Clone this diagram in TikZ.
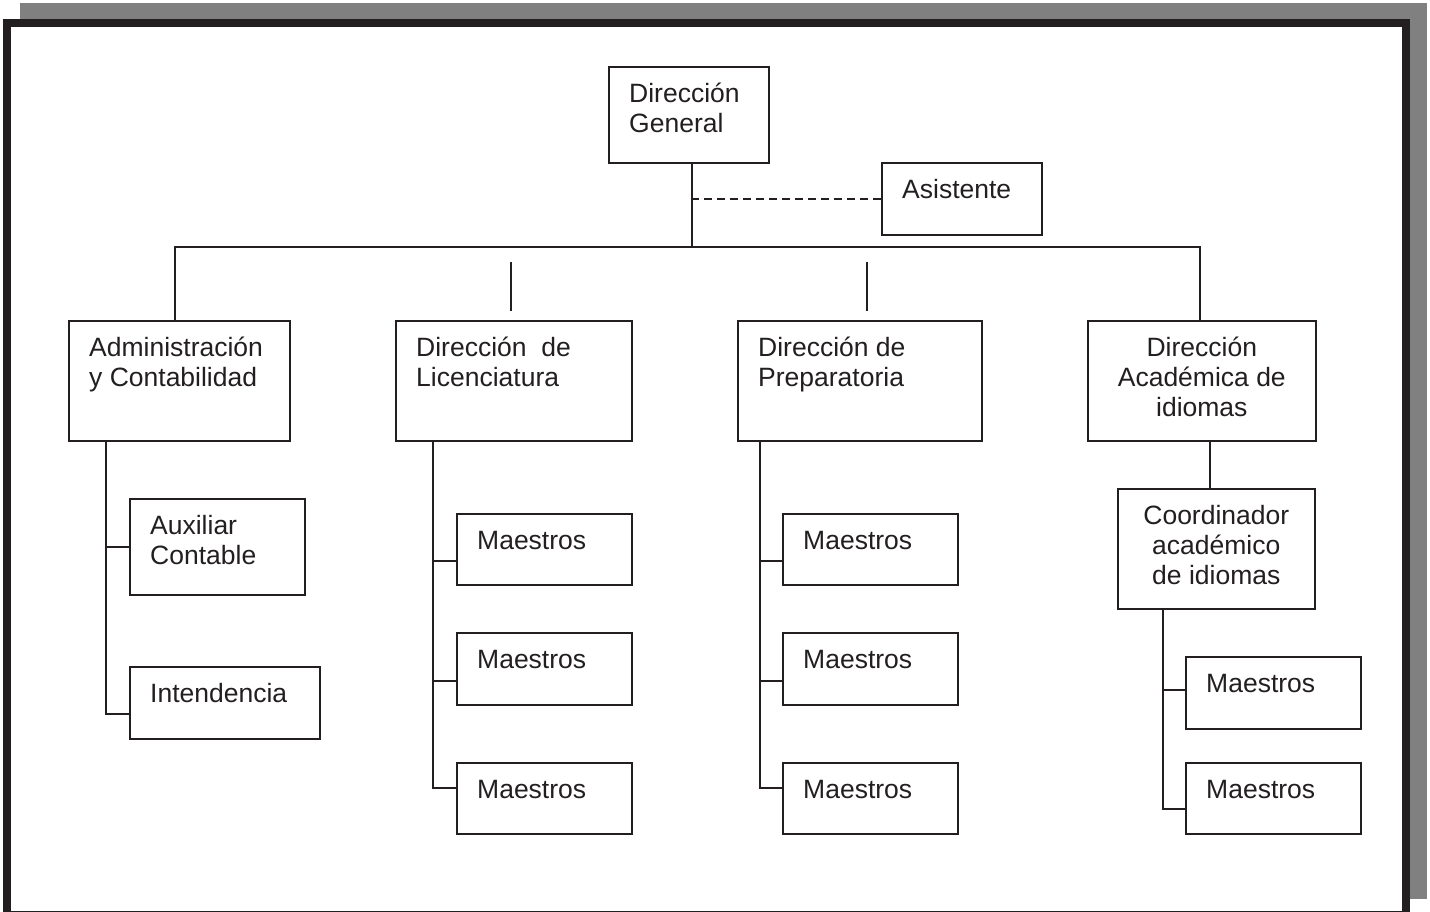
\documentclass[tikz,border=0pt]{standalone}
\usepackage{fontspec}
\setmainfont{Liberation Sans}
\definecolor{ink}{RGB}{35,31,32}
\definecolor{framegray}{RGB}{128,128,128}

% \orgunit{name}{x1}{y1}{x2}{y2}{label}: box with its label set from the top left
\newcommand\orgunit[6]{%
  \node[unit, minimum width={(#4-#2)*1pt}, minimum height={(#5-#3)*1pt}] (#1) at (#2,#3) {};
  \node[caption] (#1-t) at ([xshift=21pt,yshift=-11pt]#1.north west) {\firstline#6};}
% \orgunitc: the same box with its label centred
\newcommand\orgunitc[6]{%
  \node[unit, minimum width={(#4-#2)*1pt}, minimum height={(#5-#3)*1pt}] (#1) at (#2,#3) {};
  \node[caption, align=center, anchor=north] (#1-t) at ([yshift=-11pt]#1.north) {\firstline#6};}
% fixed height of the first text line above its baseline
\newcommand\firstline{\rule{0pt}{25pt}}

\begin{document}
\begin{tikzpicture}[x=1pt,y=-1pt,
  unit/.style={draw=ink, line width=1.6pt, inner sep=0pt, anchor=north west},
  caption/.style={font=\fontsize{26.5}{30}\selectfont, text=ink, inner sep=0pt,
                  align=left, anchor=north west},
  link/.style={draw=ink, line width=1.6pt},
  staff/.style={link, dash pattern=on 8pt off 5pt}]
\useasboundingbox (0,0) rectangle (1430,911);

% page frame with its drop shadow
\fill[framegray] (20,3) rectangle (1427,899);
\draw[ink, line width=8pt, fill=white] (7,23) rectangle (1406,915);

% top level
\orgunit{dg}{608}{66}{768}{162}{Dirección\\General}
\orgunit{asis}{881}{162}{1041}{234}{Asistente}

% second level
\orgunit{adm}{68}{320}{289}{440}{Administración\\y Contabilidad}
\orgunit{lic}{395}{320}{631}{440}{Dirección\ \ de\\Licenciatura}
\orgunit{prep}{737}{320}{981}{440}{Dirección de\\Preparatoria}
\orgunitc{idi}{1087}{320}{1315}{440}{Dirección\\Académica de\\idiomas}

% administration
\orgunit{aux}{129}{498}{304}{594}{Auxiliar\\Contable}
\orgunit{int}{129}{666}{319}{738}{Intendencia}

% licenciatura teachers
\orgunit{lm1}{456}{513}{631}{584}{Maestros}
\orgunit{lm2}{456}{632}{631}{704}{Maestros}
\orgunit{lm3}{456}{762}{631}{833}{Maestros}

% preparatoria teachers
\orgunit{pm1}{782}{513}{957}{584}{Maestros}
\orgunit{pm2}{782}{632}{957}{704}{Maestros}
\orgunit{pm3}{782}{762}{957}{833}{Maestros}

% language department
\orgunitc{coord}{1117}{488}{1314}{608}{Coordinador\\académico\\de idiomas}
\orgunit{im1}{1185}{656}{1360}{728}{Maestros}
\orgunit{im2}{1185}{762}{1360}{833}{Maestros}

% junctions
\coordinate (hub) at (692,247);
\coordinate (admpin) at (175,0);
\coordinate (idipin) at (1200,0);

% main bus
\draw[link] (dg.south -| hub) -- (hub);
\draw[staff] (asis.west) -- (asis.west -| hub);
\draw[link] (adm.north -| admpin) |- (hub) -| (idi.north -| idipin);

% short stubs above the two directions
\draw[link] ([shift={(-3,-9)}]lic.north) -- ++(0,-49);
\draw[link] ([shift={(7,-9)}]prep.north) -- ++(0,-49);

% administration branch
\draw[link] ([xshift=38pt]adm.south west) |- (aux.west)
            ([xshift=38pt]adm.south west) |- ([yshift=-11pt]int.west);

% licenciatura branch
\draw[link] ([xshift=38pt]lic.south west) |- ([yshift=-11.5pt]lm1.west)
            ([xshift=38pt]lic.south west) |- ([yshift=-12pt]lm2.west)
            ([xshift=38pt]lic.south west) |- ([yshift=10.5pt]lm3.west);

% preparatoria branch
\draw[link] ([xshift=23pt]prep.south west) |- ([yshift=-11.5pt]pm1.west)
            ([xshift=23pt]prep.south west) |- ([yshift=-12pt]pm2.west)
            ([xshift=23pt]prep.south west) |- ([yshift=10.5pt]pm3.west);

% language branch
\draw[link] ([xshift=8pt]idi.south) -- ([xshift=8pt]idi.south |- coord.north);
\draw[link] ([xshift=46pt]coord.south west) |- ([yshift=3pt]im1.west)
            ([xshift=46pt]coord.south west) |- ([yshift=-10.5pt]im2.west);
\end{tikzpicture}
\end{document}
